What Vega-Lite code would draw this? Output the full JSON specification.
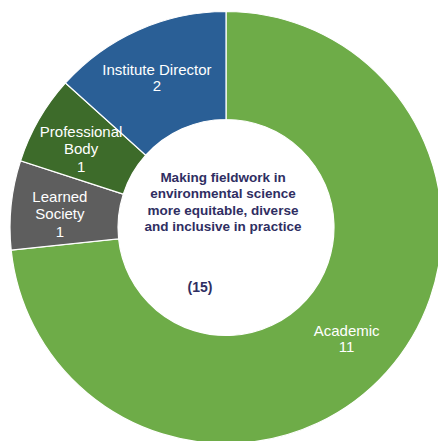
{
  "$schema": "https://vega.github.io/schema/vega-lite/v6.json",
  "autosize": {"type": "fit", "contains": "padding"},
  "width": 438,
  "height": 441,
  "padding": {"left": 14, "top": 14, "right": 0, "bottom": 0},
  "background": "white",
  "view": {"stroke": null},
  "datasets": {
    "roles": [
      {"role": "Academic", "count": 11, "rank": 1, "label3": "", "label2": "Academic\n11"},
      {"role": "Learned Society", "count": 1, "rank": 2, "label3": "Learned\nSociety\n1", "label2": ""},
      {"role": "Professional Body", "count": 1, "rank": 3, "label3": "Professional\nBody\n1", "label2": ""},
      {"role": "Institute Director", "count": 2, "rank": 4, "label3": "", "label2": "Institute Director\n2"}
    ],
    "title": [{"text": "Making fieldwork in\nenvironmental science\nmore equitable, diverse\nand inclusive in practice"}],
    "total": [{"text": "(15)"}]
  },
  "layer": [
    {
      "data": {"name": "roles"},
      "mark": {"type": "arc", "radius": 216, "radius2": 108, "stroke": "white", "strokeWidth": 1.2},
      "encoding": {
        "theta": {"field": "count", "type": "quantitative", "stack": true},
        "order": {"field": "rank", "type": "quantitative"},
        "color": {
          "field": "role",
          "type": "nominal",
          "scale": {
            "domain": ["Academic", "Learned Society", "Professional Body", "Institute Director"],
            "range": ["#6EAC48", "#5E5E5E", "#3D6B2A", "#2A5F96"]
          },
          "legend": null
        }
      }
    },
    {
      "data": {"name": "roles"},
      "mark": {"type": "text", "radius": 165, "lineBreak": "\n", "fill": "white", "font": "Liberation Sans", "fontSize": 15, "lineHeight": 17.5, "align": "center", "baseline": "middle", "dx": -2, "dy": -13.5},
      "encoding": {
        "theta": {"field": "count", "type": "quantitative", "stack": true},
        "order": {"field": "rank", "type": "quantitative"},
        "text": {"field": "label3", "type": "nominal"}
      }
    },
    {
      "data": {"name": "roles"},
      "mark": {"type": "text", "radius": 165, "lineBreak": "\n", "fill": "white", "font": "Liberation Sans", "fontSize": 15, "lineHeight": 16.5, "align": "center", "baseline": "middle", "dx": -2, "dy": -7},
      "encoding": {
        "theta": {"field": "count", "type": "quantitative", "stack": true},
        "order": {"field": "rank", "type": "quantitative"},
        "text": {"field": "label2", "type": "nominal"}
      }
    },
    {
      "data": {"name": "title"},
      "mark": {"type": "text", "lineBreak": "\n", "fill": "#2F2E62", "font": "Liberation Sans", "fontWeight": "bold", "fontSize": 13.5, "lineHeight": 16.3, "align": "center", "baseline": "middle", "dx": -3, "dy": -49.5},
      "encoding": {"text": {"field": "text", "type": "nominal"}}
    },
    {
      "data": {"name": "total"},
      "mark": {"type": "text", "fill": "#2F2E62", "font": "Liberation Sans", "fontWeight": "bold", "fontSize": 14, "align": "center", "baseline": "middle", "dx": -26, "dy": 60},
      "encoding": {"text": {"field": "text", "type": "nominal"}}
    }
  ]
}
